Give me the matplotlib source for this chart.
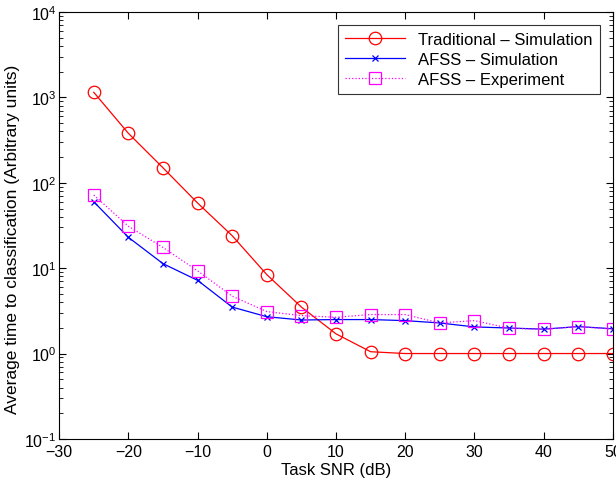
import numpy as np
import matplotlib.pyplot as plt
from matplotlib.ticker import LogLocator, NullFormatter

plt.rcParams['font.family'] = ['Liberation Sans', 'DejaVu Sans']

snr = [-25, -20, -15, -10, -5, 0, 5, 10, 15, 20, 25, 30, 35, 40, 45, 50]
trad_sim = [1150, 380, 150, 58, 24, 8.4, 3.5, 1.7, 1.05, 1.0, 1.0, 1.0, 1.0, 1.0, 1.0, 1.0]
afss_sim = [60, 23, 11.3, 7.2, 3.5, 2.7, 2.47, 2.5, 2.5, 2.43, 2.28, 2.05, 1.99, 1.93, 2.07, 1.95]
afss_exp = [72, 31, 17.5, 9.3, 4.7, 3.1, 2.78, 2.66, 2.86, 2.86, 2.28, 2.43, 1.98, 1.92, 2.07, 1.93]

fig = plt.figure(figsize=(6.16, 4.85), dpi=100)
ax = fig.add_axes([0.096, 0.093, 0.899, 0.880])

ax.semilogy(snr, trad_sim, '-o', color='red', lw=0.9, ms=9, mfc='none', mew=0.9,
            label='Traditional \u2013 Simulation')
ax.semilogy(snr, afss_sim, '-x', color='blue', lw=0.9, ms=4, mew=0.9,
            label='AFSS \u2013 Simulation')
ax.semilogy(snr, afss_exp, ':s', color='magenta', lw=0.9, ms=9, mfc='none', mew=0.9,
            label='AFSS \u2013 Experiment')

ax.set_xlim(-30, 50)
ax.set_ylim(0.1, 1e4)
ax.set_xticks(range(-30, 51, 10))
ax.yaxis.set_major_locator(LogLocator(base=10, numticks=10))
ax.yaxis.set_minor_locator(LogLocator(base=10, subs=np.arange(2, 10), numticks=10))
ax.yaxis.set_minor_formatter(NullFormatter())
ax.tick_params(which='both', direction='in', top=True, right=True, labelsize=11.5)
ax.tick_params(which='major', length=5)
ax.tick_params(which='minor', length=3)
ax.tick_params(axis='y', pad=2)

ax.set_xlabel('Task SNR (dB)', fontsize=12, labelpad=2)
ax.set_ylabel('Average time to classification (Arbitrary units)', fontsize=12.5)
ax.yaxis.set_label_coords(-0.07, 0.47)

leg = ax.legend(loc='upper right', fontsize=12, fancybox=False, edgecolor='black',
                borderaxespad=0.8, handlelength=3.6, labelspacing=0.3)
leg.get_frame().set_linewidth(0.8)

fig.savefig('out.png', dpi=100)
